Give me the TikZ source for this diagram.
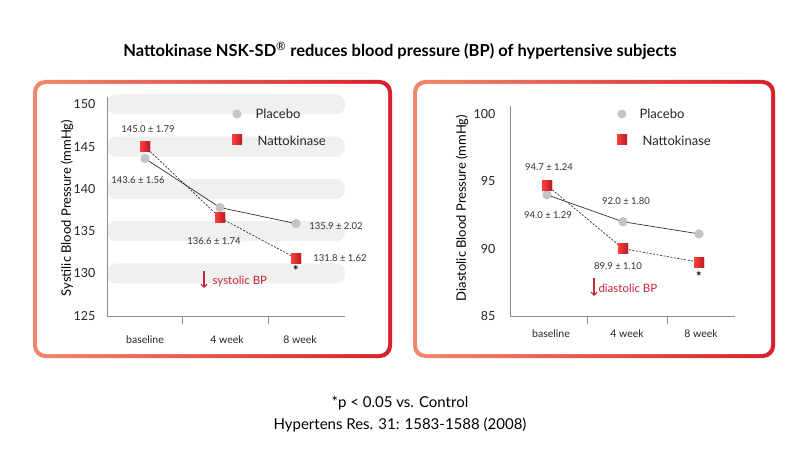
\documentclass[tikz,border=0pt]{standalone}
\usepackage{fontspec}
\setmainfont{Lato}
\usetikzlibrary{arrows.meta}
\definecolor{bandg}{HTML}{F0F0F0}
\definecolor{ptg}{HTML}{C4C4C4}
\definecolor{bred}{HTML}{D8202A}
\definecolor{salmon}{HTML}{F2876A}
\definecolor{txtred}{HTML}{C8283A}
\tikzset{
 plc/.style={circle,fill=ptg,inner sep=0pt,minimum size=9pt},
 nat/.style={rectangle,inner sep=0pt,minimum size=10pt,left color=red!75!white,right color=bred!85!black},
 dlab/.style={font=\fontsize{9.5}{10}\selectfont,text=black!80},
 tlab/.style={font=\fontsize{12.5}{13}\selectfont,anchor=east,text=black!85},
 clab/.style={font=\fontsize{10.5}{11}\selectfont,text=black!85},
 leg/.style={font=\fontsize{13}{14}\selectfont,anchor=west,text=black!85},
 band/.style={fill=bandg,rounded corners=9pt},
 pl/.style={draw=black!80,line width=0.7pt},
 nl/.style={draw=black!80,line width=0.7pt,dash pattern=on 2pt off 1.5pt},
 ax/.style={draw=black!45,line width=0.8pt},
 star/.style={font=\bfseries\fontsize{13}{13}\selectfont}
}
\begin{document}
\begin{tikzpicture}[x=1pt,y=-1pt]
\useasboundingbox (0,0) rectangle (800,465);
\fill[white] (0,0) rectangle (800,465);
% panels
\foreach \a/\b in {33/392,413/775}{
 \shade[left color=salmon,right color=bred,rounded corners=12pt] (\a,80) rectangle (\b,358);
 \fill[white,rounded corners=9pt] (\a+4,84) rectangle (\b-4,354);
}
\node[font=\bfseries\fontsize{16.5}{18}\selectfont] (title) at (400,51) {Nattokinase NSK-SD\textsuperscript{\normalfont\textregistered} reduces blood pressure (BP) of hypertensive subjects};
% ---- left chart
\foreach \v in {150,145,140,135,130}{
 \fill[band] (107,{146.7+(145-\v)*8.45-10}) rectangle (345,{146.7+(145-\v)*8.45+10});
}
\foreach \v in {150,145,140,135,130,125}{
 \node[tlab] at (99,{146.7+(145-\v)*8.45}) {\v};
}
\draw[ax] (107,97) -- (107,316) -- (345,316);
\draw[ax] (182,316) -- (182,324) (268,316) -- (268,324);
\node[clab] (lc1) at (145,340) {baseline};
\node[clab] (lc2) at (227,340) {4 week};
\node[clab] (lc3) at (300,340) {8 week};
\node[rotate=90,font=\fontsize{13}{14}\selectfont] (lyl) at (67,208) {Systilic Blood Pressure (mmHg)};
\node[plc] (lp1) at (145,{146.7+(145-143.6)*8.45}) {};
\node[plc] (lp2) at (220,{146.7+(145-137.8)*8.45}) {};
\node[plc] (lp3) at (296,{146.7+(145-135.9)*8.45}) {};
\node[nat] (ln1) at (145,{146.7+(145-145.0)*8.45}) {};
\node[nat] (ln2) at (220,{146.7+(145-136.6)*8.45}) {};
\node[nat] (ln3) at (296,{146.7+(145-131.8)*8.45}) {};
\draw[pl] (lp1.center) -- (lp2.center) -- (lp3.center);
\draw[nl] (ln1.center) -- (ln2.center) -- (ln3.center);
\node[plc] at (lp1) {};\node[plc] at (lp2) {};\node[plc] at (lp3) {};
\node[nat] at (ln1) {};\node[nat] at (ln2) {};\node[nat] at (ln3) {};
\node[dlab] (ld1) at (148,129) {145.0 ± 1.79};
\node[dlab] (ld2) at (138,180) {143.6 ± 1.56};
\node[dlab] (ld3) at (214,241) {136.6 ± 1.74};
\node[dlab] (ld4) at (336,226) {135.9 ± 2.02};
\node[dlab] (ld5) at (340,258) {131.8 ± 1.62};
\node[star] (lst) at (296,271) {*};
\node[plc] (llp) at (237,114) {};
\node[leg] (llpt) at (252,114) {Placebo};
\node[nat] (lln) at (237,140) {};
\node[leg] (llnt) at (254,141) {Nattokinase};
\coordinate (la1) at (204,271);
\coordinate (la2) at (204,288);
\draw[txtred,line width=1.2pt,-{Straight Barb[length=3pt,width=6pt]}] (la1) -- (la2);
\node[anchor=west,text=txtred,font=\fontsize{11.5}{12}\selectfont] (lsb) at (209,281) {systolic BP};
% ---- right chart
\foreach \v in {100,95,90,85}{
 \node[tlab] at (499,{114+(100-\v)*13.47}) {\v};
}
\draw[ax] (510,106) -- (510,316) -- (735,316);
\draw[ax] (587,316) -- (587,324) (667,316) -- (667,324);
\node[clab] (rc1) at (551,334) {baseline};
\node[clab] (rc2) at (627,334) {4 week};
\node[clab] (rc3) at (701,334) {8 week};
\node[rotate=90,font=\fontsize{13}{14}\selectfont] (ryl) at (462,208) {Diastolic Blood Pressure (mmHg)};
\node[plc] (rp1) at (547,{114+(100-94.0)*13.47}) {};
\node[plc] (rp2) at (623,{114+(100-92.0)*13.47}) {};
\node[plc] (rp3) at (699,{114+(100-91.1)*13.47}) {};
\node[nat] (rn1) at (547,{114+(100-94.7)*13.47}) {};
\node[nat] (rn2) at (623,{114+(100-90.0)*13.47}) {};
\node[nat] (rn3) at (699,{114+(100-89.0)*13.47}) {};
\draw[pl] (rp1.center) -- (rp2.center) -- (rp3.center);
\draw[nl] (rn1.center) -- (rn2.center) -- (rn3.center);
\node[plc] at (rp1) {};\node[plc] at (rp2) {};\node[plc] at (rp3) {};
\node[nat] at (rn1) {};\node[nat] at (rn2) {};\node[nat] at (rn3) {};
\node[dlab] (rd1) at (549,167) {94.7 ± 1.24};
\node[dlab] (rd2) at (548,215) {94.0 ± 1.29};
\node[dlab] (rd3) at (626,201) {92.0 ± 1.80};
\node[dlab] (rd4) at (618,266) {89.9 ± 1.10};
\node[star] (rst) at (699,277) {*};
\node[plc] (rlp) at (622,114) {};
\node[leg] (rlpt) at (636,114) {Placebo};
\node[nat] (rln) at (622,140) {};
\node[leg] (rlnt) at (639,141) {Nattokinase};
\coordinate (ra1) at (594,278);
\coordinate (ra2) at (594,296);
\draw[txtred,line width=1.2pt,-{Straight Barb[length=3pt,width=6pt]}] (ra1) -- (ra2);
\node[anchor=west,text=txtred,font=\fontsize{11.5}{12}\selectfont] (rsb) at (595,288) {diastolic BP};
% footer
\node[font=\fontsize{15}{16}\selectfont] (f1) at (400,403) {*p < 0.05 vs. Control};
\node[font=\fontsize{15}{16}\selectfont] (f2) at (400,425) {Hypertens Res. 31: 1583-1588 (2008)};
\end{tikzpicture}
\end{document}
